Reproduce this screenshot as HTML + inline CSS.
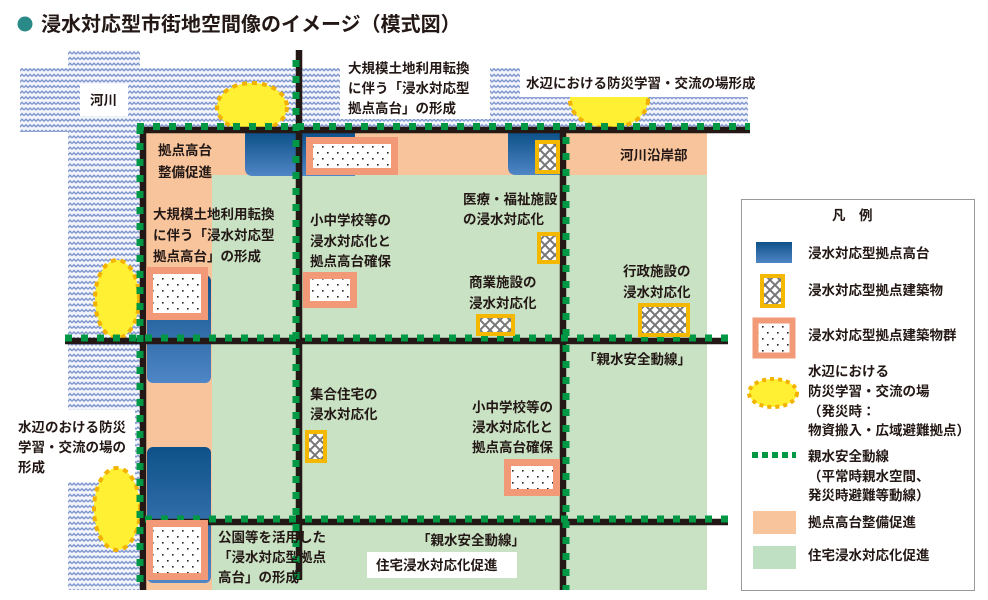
<!DOCTYPE html>
<html><head><meta charset="utf-8"><style>
html,body{margin:0;padding:0;background:#fff;}
svg{display:block;}
text{font-family:"Liberation Sans","Noto Sans CJK JP",sans-serif;fill:#231815;font-weight:bold;font-size:13.5px;}
</style></head><body>
<svg width="988" height="600" viewBox="0 0 988 600" xmlns="http://www.w3.org/2000/svg">
<defs>
<pattern id="wave" width="8" height="5.6" patternUnits="userSpaceOnUse">
<rect width="8" height="5.6" fill="#f3f5fb"/>
<path d="M0 3.6 L2 1.6 L4 3.6 L6 1.6 L8 3.6" fill="none" stroke="#7d95cc" stroke-width="1.4"/>
</pattern>
<pattern id="dots" width="10" height="12" patternUnits="userSpaceOnUse">
<rect width="10" height="12" fill="#fff"/>
<rect x="2" y="2" width="1.6" height="1.6" fill="#222"/>
<rect x="7" y="8" width="1.6" height="1.6" fill="#222"/>
</pattern>
<pattern id="hatch" width="10" height="10" patternUnits="userSpaceOnUse">
<rect width="10" height="10" fill="#fff"/>
<path d="M0 0 L10 10 M10 0 L0 10" stroke="#777" stroke-width="2"/>
</pattern>
<linearGradient id="blue" x1="0" y1="0" x2="0" y2="1">
<stop offset="0" stop-color="#0e5189"/><stop offset="1" stop-color="#4f86c6"/>
</linearGradient>
</defs>

<!-- title -->
<circle cx="25" cy="24" r="7.5" fill="#2a8a87"/>
<text x="41" y="31" style="font-size:20px">浸水対応型市街地空間像のイメージ（模式図）</text>

<!-- river -->
<rect x="20" y="68" width="728" height="64" fill="url(#wave)"/>
<rect x="68" y="50" width="72" height="540" fill="url(#wave)"/>
<rect x="0" y="590" width="988" height="10" fill="#fff"/>

<!-- zones -->
<rect x="146" y="133" width="561" height="457" fill="#c9e2c4"/>
<rect x="146" y="133" width="561" height="42" fill="#f7c49c"/>
<rect x="146" y="133" width="66" height="457" fill="#f7c49c"/>

<!-- blue platforms -->
<path d="M245 133 H355 V176 H253 Q245 176 245 168 Z" fill="url(#blue)"/>
<path d="M508 133 H560 V175 H516 Q508 175 508 167 Z" fill="url(#blue)"/>
<rect x="147" y="275" width="64" height="108" rx="6" fill="url(#blue)"/>
<rect x="147" y="447" width="64" height="136" rx="6" fill="url(#blue)"/>

<!-- label boxes on river -->
<rect x="80" y="84" width="48" height="32" fill="#fff"/>
<rect x="340" y="55" width="150" height="64" fill="#fff"/>
<rect x="0" y="410" width="135" height="72" fill="#fff"/>

<!-- yellow ellipses -->
<g fill="#fff033" stroke="#f3b200" stroke-width="4" stroke-dasharray="5 5">
<ellipse cx="252" cy="107" rx="35" ry="24"/>
<ellipse cx="609" cy="100" rx="39" ry="28"/>
<ellipse cx="117" cy="299" rx="22" ry="39"/>
<ellipse cx="117" cy="509" rx="23" ry="41"/>
</g>
<rect x="520" y="66" width="230" height="31" fill="#fff"/>

<!-- roads -->
<g stroke="#231815" stroke-width="6.5" fill="none">
<line x1="137" y1="130" x2="750" y2="130"/>
<line x1="65" y1="341" x2="728" y2="341"/>
<line x1="140" y1="522" x2="728" y2="522"/>
<line x1="143" y1="127" x2="143" y2="590"/>
<line x1="299" y1="50" x2="299" y2="580"/>
<line x1="563" y1="130" x2="563" y2="590"/>
</g>
<g stroke="#009844" stroke-width="7" fill="none" stroke-dasharray="7 9">
<line x1="137" y1="126.5" x2="750" y2="126.5"/>
<line x1="65" y1="338" x2="728" y2="338"/>
<line x1="145" y1="519" x2="728" y2="519"/>
<line x1="140" y1="127" x2="140" y2="590"/>
<line x1="296" y1="60" x2="296" y2="580"/>
<line x1="566" y1="137" x2="566" y2="590"/>
</g>

<!-- dotted building groups -->
<g fill="url(#dots)" stroke="#f29a78" stroke-width="7">
<rect x="309.5" y="140.5" width="85" height="31"/>
<rect x="149.5" y="270.5" width="55" height="46"/>
<rect x="306.5" y="275.5" width="47" height="29"/>
<rect x="507.5" y="462.5" width="49" height="30"/>
<rect x="149.5" y="523.5" width="55" height="53"/>
</g>
<!-- crosshatch buildings -->
<g fill="url(#hatch)" stroke="#f5b800" stroke-width="4">
<rect x="537" y="142" width="21" height="30"/>
<rect x="539" y="234" width="19" height="28"/>
<rect x="478" y="316" width="35" height="18"/>
<rect x="640" y="305" width="48" height="30"/>
<rect x="307" y="432" width="18" height="29"/>
</g>

<!-- labels -->
<text x="90" y="105">河川</text>
<text x="348" y="73">大規模土地利用転換</text>
<text x="348" y="93">に伴う「浸水対応型</text>
<text x="348" y="113">拠点高台」の形成</text>
<text x="526" y="88">水辺における防災学習・交流の場形成</text>
<text x="158" y="155">拠点高台</text>
<text x="158" y="177">整備促進</text>
<text x="620" y="160">河川沿岸部</text>
<text x="153" y="219">大規模土地利用転換</text>
<text x="153" y="240">に伴う「浸水対応型</text>
<text x="153" y="261">拠点高台」の形成</text>
<text x="310" y="225">小中学校等の</text>
<text x="310" y="246">浸水対応化と</text>
<text x="310" y="266">拠点高台確保</text>
<text x="463" y="204">医療・福祉施設</text>
<text x="463" y="224">の浸水対応化</text>
<text x="469" y="287">商業施設の</text>
<text x="469" y="308">浸水対応化</text>
<text x="623" y="276">行政施設の</text>
<text x="623" y="297">浸水対応化</text>
<text x="583" y="364">「親水安全動線」</text>
<text x="310" y="399">集合住宅の</text>
<text x="310" y="419">浸水対応化</text>
<text x="472" y="412">小中学校等の</text>
<text x="472" y="432">浸水対応化と</text>
<text x="472" y="452">拠点高台確保</text>
<text x="18" y="432">水辺のおける防災</text>
<text x="18" y="452">学習・交流の場の</text>
<text x="18" y="472">形成</text>
<text x="218" y="542">公園等を活用した</text>
<text x="218" y="562">「浸水対応型拠点</text>
<text x="218" y="582">高台」の形成</text>
<text x="417" y="545">「親水安全動線」</text>
<rect x="367" y="552" width="150" height="26" fill="#fff"/>
<text x="376" y="570">住宅浸水対応化促進</text>

<!-- legend -->
<rect x="741.5" y="199.5" width="233" height="391" fill="#fff" stroke="#999" stroke-width="1"/>
<text x="832" y="220">凡　例</text>
<rect x="756" y="242" width="36" height="21" fill="url(#blue)"/>
<text x="808" y="258">浸水対応型拠点高台</text>
<rect x="762" y="276" width="21" height="30" fill="url(#hatch)" stroke="#f5b800" stroke-width="4"/>
<text x="808" y="295">浸水対応型拠点建築物</text>
<rect x="755.5" y="320.5" width="37" height="35" fill="url(#dots)" stroke="#f29a78" stroke-width="6"/>
<text x="808" y="340">浸水対応型拠点建築物群</text>
<ellipse cx="773" cy="393" rx="24" ry="14" fill="#fff033" stroke="#f3b200" stroke-width="4" stroke-dasharray="4 4"/>
<text x="808" y="376">水辺における</text>
<text x="808" y="396">防災学習・交流の場</text>
<text x="808" y="416">（発災時：</text>
<text x="808" y="435">物資搬入・広域避難拠点）</text>
<line x1="752" y1="455" x2="796" y2="455" stroke="#009844" stroke-width="6" stroke-dasharray="6 4"/>
<text x="808" y="461">親水安全動線</text>
<text x="808" y="481">（平常時親水空間、</text>
<text x="808" y="500">発災時避難等動線）</text>
<rect x="753" y="511" width="43" height="23" fill="#f7c49c"/>
<text x="808" y="527">拠点高台整備促進</text>
<rect x="753" y="546" width="43" height="23" fill="#c0e0c4"/>
<text x="808" y="560">住宅浸水対応化促進</text>
</svg>
</body></html>
